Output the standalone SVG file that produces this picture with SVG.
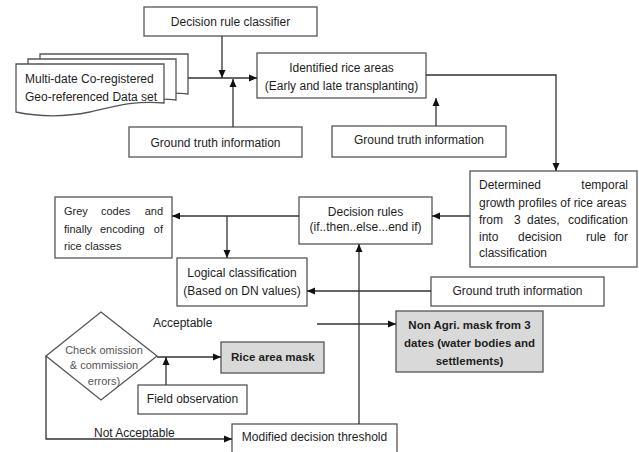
<svg xmlns="http://www.w3.org/2000/svg" width="639" height="452" viewBox="0 0 639 452">
<defs>
<marker id="ah" markerUnits="userSpaceOnUse" markerWidth="8" markerHeight="8" refX="8" refY="4" orient="auto">
<path d="M0,0.5 L8,4 L0,7.5 Z" fill="#111"/>
</marker>
<style>
.box{fill:#fff;stroke:#555;stroke-width:1.3}
.grey{fill:#d9d9d9;stroke:#555;stroke-width:1.3}
.t{font-family:"Liberation Sans",Arial,sans-serif;font-size:12px;fill:#1e1e1e}
.s{font-size:11px}
.c{text-anchor:middle}
.e{text-anchor:end}
.b{font-weight:bold;font-size:11.5px}
.d{font-family:"Liberation Sans",Arial,sans-serif;font-size:11px;fill:#555;text-anchor:middle}
.ln{fill:none;stroke:#333;stroke-width:1.3}
.ar{fill:none;stroke:#333;stroke-width:1.3;marker-end:url(#ah)}
</style>
</defs>
<rect width="639" height="452" fill="#fff"/>

<g id="classifier">
<rect class="box" x="144" y="7" width="173" height="29"/>
<text class="t c" x="230.5" y="26">Decision rule classifier</text>
</g>

<g id="dataset">
<path class="box" d="M40,54 H188 V94 C160,90 130,98 40,96 Z"/>
<path class="box" d="M28,59 H176 V100 C150,96 120,104 28,104 Z"/>
<path class="box" d="M16,64 H164 V103 C130,100 110,108 90,112 C60,118 35,116 16,112 Z"/>
<text class="t" x="25" y="83">Multi-date Co-registered</text>
<text class="t" x="25" y="101">Geo-referenced Data set</text>
</g>

<g id="gt1">
<rect class="box" x="129" y="127" width="173" height="30"/>
<text class="t c" x="215.5" y="147">Ground truth information</text>
</g>

<g id="identified">
<rect class="box" x="257" y="53" width="169" height="45"/>
<text class="t c" x="341.5" y="72">Identified rice areas</text>
<text class="t c" x="341.5" y="90">(Early and late transplanting)</text>
</g>

<g id="gt2">
<rect class="box" x="332" y="126" width="174" height="31"/>
<text class="t c" x="419" y="144">Ground truth information</text>
</g>

<g id="determined">
<rect class="box" x="470" y="171" width="167" height="96"/>
<text class="t" x="479" y="189">Determined</text>
<text class="t e" x="628" y="189">temporal</text>
<text class="t" x="479" y="207">growth profiles of rice areas</text>
<text class="t" x="479" y="224">from</text>
<text class="t" x="514" y="224">3</text>
<text class="t" x="527" y="224">dates,</text>
<text class="t e" x="628" y="224">codification</text>
<text class="t" x="479" y="241">into</text>
<text class="t" x="518" y="241">decision</text>
<text class="t" x="586" y="241">rule</text>
<text class="t e" x="628" y="241">for</text>
<text class="t" x="479" y="257">classification</text>
</g>

<g id="rules">
<rect class="box" x="299" y="197" width="133" height="47"/>
<text class="t c" x="365.5" y="216">Decision rules</text>
<text class="t c" x="365.5" y="231">(if..then..else...end if)</text>
</g>

<g id="greycodes">
<rect class="box" x="55" y="197" width="117" height="61"/>
<text class="t s" x="64" y="215">Grey</text>
<text class="t s" x="101" y="215">codes</text>
<text class="t s e" x="163" y="215">and</text>
<text class="t s" x="64" y="233">finally</text>
<text class="t s" x="100" y="233">encoding</text>
<text class="t s e" x="163" y="233">of</text>
<text class="t s" x="64" y="250">rice classes</text>
</g>

<g id="logical">
<rect class="box" x="177" y="258" width="130" height="48"/>
<text class="t c" x="242" y="277">Logical classification</text>
<text class="t c" x="242" y="295">(Based on DN values)</text>
</g>

<g id="gt3">
<rect class="box" x="431" y="277" width="173" height="29"/>
<text class="t c" x="517.5" y="295">Ground truth information</text>
</g>

<g id="nonagri">
<rect class="grey" x="396" y="311" width="147" height="61"/>
<text class="t c b" x="469.5" y="329">Non Agri. mask from 3</text>
<text class="t c b" x="469.5" y="347">dates (water bodies and</text>
<text class="t c b" x="469.5" y="365">settlements)</text>
</g>

<g id="check">
<path class="box" d="M101,312 L157,356 L101,400 L46,356 Z"/>
<text class="d" x="104" y="354">Check omission</text>
<text class="d" x="104" y="369">&amp; commission</text>
<text class="d" x="104" y="385">errors)</text>
</g>

<g id="ricemask">
<rect class="grey" x="221" y="342" width="103" height="31"/>
<text class="t b" x="231" y="361">Rice area mask</text>
</g>

<g id="field">
<rect class="box" x="138" y="385" width="109" height="29"/>
<text class="t c" x="192.5" y="403">Field observation</text>
</g>

<g id="modified">
<rect class="box" x="232" y="424" width="165" height="32"/>
<text class="t c" x="314.5" y="441">Modified decision threshold</text>
</g>

<g id="labels">
<text class="t" x="153" y="327">Acceptable</text>
<text class="t" x="94" y="437">Not Acceptable</text>
</g>

<g id="connectors">
<path class="ar" d="M188,78 H257"/>
<path class="ar" d="M222,36 V78"/>
<path class="ar" d="M233,127 V79"/>
<path class="ar" d="M426,75 H556 V171"/>
<path class="ar" d="M436,126 V98"/>
<path class="ar" d="M470,216 H432"/>
<path class="ar" d="M299,216 H172"/>
<path class="ar" d="M227,216 V258"/>
<path class="ar" d="M359,424 V244"/>
<path class="ar" d="M431,291 H307"/>
<path class="ar" d="M317,324 H396"/>
<path class="ar" d="M157,357 H221"/>
<path class="ar" d="M166,385 V357"/>
<path class="ar" d="M46,356 V439 H232"/>
</g>
</svg>
